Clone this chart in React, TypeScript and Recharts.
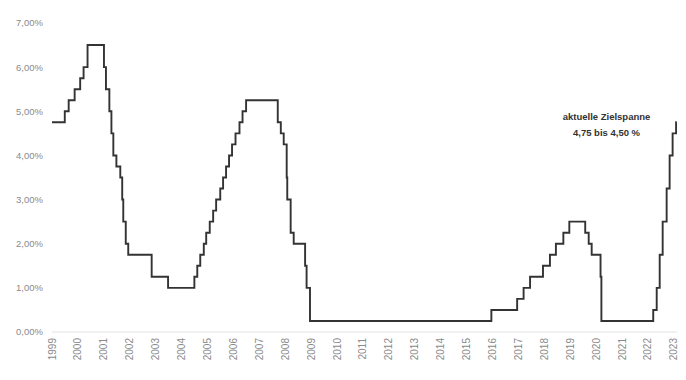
import React from 'react';
import { LineChart, Line, XAxis, YAxis, ReferenceDot } from 'recharts';

// Leitzins-Zielspanne (Obergrenze) – Datum der Änderung und neuer Satz in %
const changeDates = [
  '1999-01-01', '1999-06-30', '1999-08-24', '1999-11-16', '2000-02-02', '2000-03-21', '2000-05-16',
  '2001-01-03', '2001-01-31', '2001-03-20', '2001-04-18', '2001-05-15', '2001-06-27', '2001-08-21',
  '2001-09-17', '2001-10-02', '2001-11-06', '2001-12-11', '2002-11-06', '2003-06-25',
  '2004-06-30', '2004-08-10', '2004-09-21', '2004-11-10', '2004-12-14',
  '2005-02-02', '2005-03-22', '2005-05-03', '2005-06-30', '2005-08-09', '2005-09-20', '2005-11-01', '2005-12-13',
  '2006-01-31', '2006-03-28', '2006-05-10', '2006-06-29',
  '2007-09-18', '2007-10-31', '2007-12-11',
  '2008-01-22', '2008-01-30', '2008-03-18', '2008-04-30', '2008-10-08', '2008-10-29', '2008-12-16',
  '2015-12-16', '2016-12-14', '2017-03-15', '2017-06-14', '2017-12-13',
  '2018-03-21', '2018-06-13', '2018-09-26', '2018-12-19',
  '2019-07-31', '2019-09-18', '2019-10-30', '2020-03-03', '2020-03-15',
  '2022-03-16', '2022-05-04', '2022-06-15', '2022-07-27', '2022-09-21', '2022-11-02', '2022-12-14',
  '2023-02-01', '2023-02-10',
];

const targetRates = [
  4.75, 5.0, 5.25, 5.5, 5.75, 6.0, 6.5,
  6.0, 5.5, 5.0, 4.5, 4.0, 3.75, 3.5,
  3.0, 2.5, 2.0, 1.75, 1.25, 1.0,
  1.25, 1.5, 1.75, 2.0, 2.25,
  2.5, 2.75, 3.0, 3.25, 3.5, 3.75, 4.0, 4.25,
  4.5, 4.75, 5.0, 5.25,
  4.75, 4.5, 4.25,
  3.5, 3.0, 2.25, 2.0, 1.5, 1.0, 0.25,
  0.5, 0.75, 1.0, 1.25, 1.5,
  1.75, 2.0, 2.25, 2.5,
  2.25, 2.0, 1.75, 1.25, 0.25,
  0.5, 1.0, 1.75, 2.5, 3.25, 4.0, 4.5,
  4.75, 4.75,
];

const yearTicks = [
  1999, 2000, 2001, 2002, 2003, 2004, 2005, 2006, 2007, 2008, 2009, 2010, 2011,
  2012, 2013, 2014, 2015, 2016, 2017, 2018, 2019, 2020, 2021, 2022, 2023,
];

const rateTicks = [0, 1, 2, 3, 4, 5, 6, 7];

const annotationLines = ['aktuelle Zielspanne', '4,75 bis 4,50 %'];

const toDecimalYear = (iso: string) => {
  const [y, m, d] = iso.split('-').map(Number);
  const start = Date.UTC(y, 0, 1);
  const end = Date.UTC(y + 1, 0, 1);
  return y + (Date.UTC(y, m - 1, d) - start) / (end - start);
};

const data = changeDates.map((date, i) => ({ t: toDecimalYear(date), rate: targetRates[i] }));

const axisFont = '"Liberation Sans", Arial, sans-serif';

const YearTick = (props: any) => {
  const { x, y, payload } = props;
  return (
    <text
      transform={`translate(${x + 3.5},${y - 2}) rotate(-90)`}
      textAnchor="end"
      fontSize={10}
      fill="#8a8a8a"
      fontFamily={axisFont}
    >
      {payload.value}
    </text>
  );
};

const AnnotationLabel = (props: any) => {
  const { viewBox } = props;
  const cx = viewBox.x + (viewBox.width || 0) / 2;
  const cy = viewBox.y + (viewBox.height || 0) / 2;
  return (
    <g>
      {annotationLines.map((line, i) => (
        <text
          key={line}
          x={cx}
          y={cy + i * 16}
          textAnchor="middle"
          fontSize={9.5}
          fontWeight={600}
          fill="#333"
          fontFamily={axisFont}
        >
          {line}
        </text>
      ))}
    </g>
  );
};

export default function App() {
  return (
    <LineChart width={672} height={364} data={data} margin={{ top: 15, right: 3, bottom: 0, left: 0 }}>
      <XAxis
        dataKey="t"
        type="number"
        domain={[1999, 2023.12]}
        ticks={yearTicks}
        interval={0}
        allowDataOverflow
        height={40}
        tickLine={false}
        axisLine={{ stroke: '#e3e3e3' }}
        tick={<YearTick />}
      />
      <YAxis
        type="number"
        domain={[0, 7]}
        ticks={rateTicks}
        width={44}
        tickSize={0}
        tickMargin={9}
        axisLine={false}
        tickLine={false}
        tickFormatter={(v: number) => `${v.toFixed(2).replace('.', ',')}%`}
        tick={{ fontSize: 9.5, fill: '#8a8a8a', fontFamily: axisFont }}
      />
      <Line
        type="stepAfter"
        dataKey="rate"
        stroke="#333"
        strokeWidth={1.9}
        dot={false}
        isAnimationActive={false}
      />
      <ReferenceDot x={2020.4} y={4.8} r={0} fill="none" stroke="none" label={<AnnotationLabel />} />
    </LineChart>
  );
}
